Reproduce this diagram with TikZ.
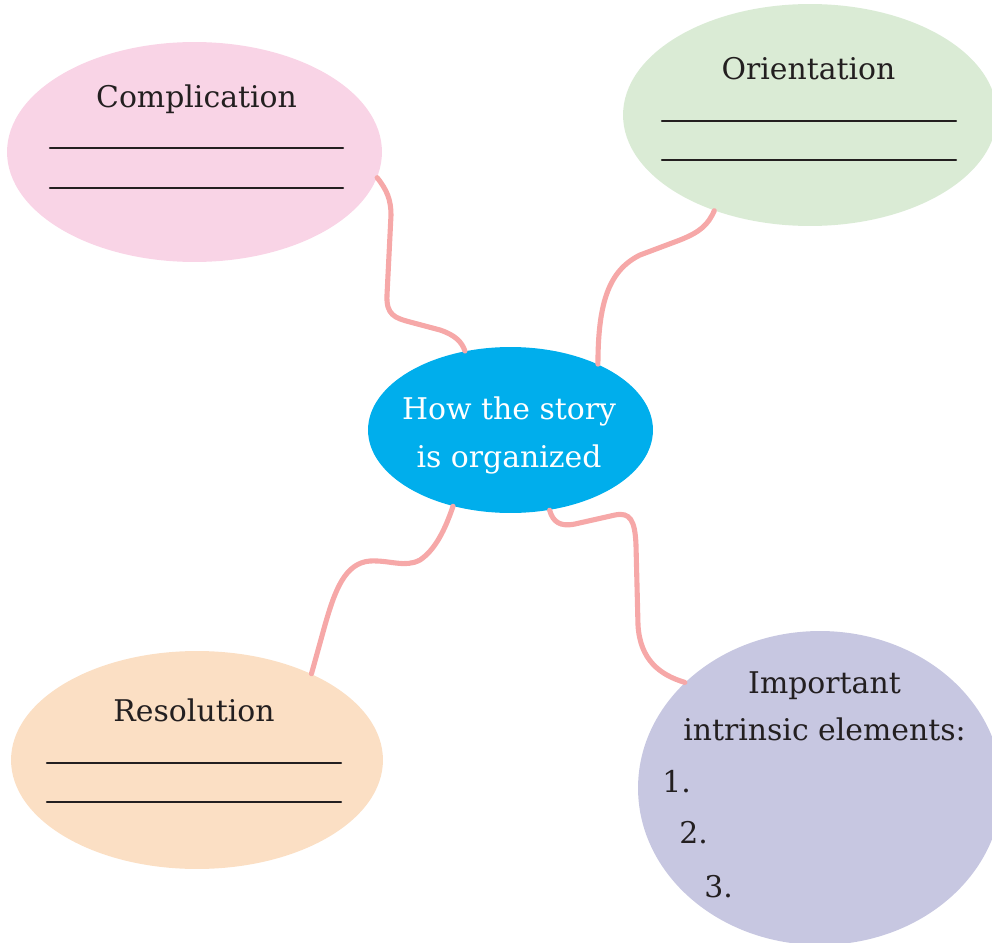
\documentclass[tikz,border=0pt]{standalone}
\usepackage{fontspec}
\setmainfont{DejaVu Serif}
\usetikzlibrary{shapes.geometric}
\definecolor{cmpPink}{HTML}{F9D4E6}
\definecolor{oriGreen}{HTML}{DAEBD5}
\definecolor{hubBlue}{HTML}{00AEEC}
\definecolor{resPeach}{HTML}{FBDFC4}
\definecolor{impLilac}{HTML}{C7C7E1}
\definecolor{linkRose}{HTML}{F6A8A8}
\definecolor{inkGray}{HTML}{231F20}
\begin{document}
\begin{tikzpicture}[x=0.02cm, y=-0.02cm, line cap=round,
	every node/.style={font=\fontsize{17}{27}\selectfont, text=inkGray},
	bubble/.style={ellipse, inner sep=0pt},
	link/.style={draw=linkRose, line width=2.9pt},
	blank/.style={draw=inkGray, line width=1.2pt}]
	\useasboundingbox (0,0) rectangle (992,943);
	% bubbles
	\node[bubble, fill=cmpPink, minimum width=7.5cm, minimum height=4.4cm] (cmp) at (194.5,152) {};
	\node[bubble, fill=oriGreen, minimum width=7.48cm, minimum height=4.44cm] (ori) at (810,115) {};
	\node[bubble, fill=hubBlue, minimum width=5.7cm, minimum height=3.32cm] (hub) at (510.5,430) {};
	\node[bubble, fill=resPeach, minimum width=7.44cm, minimum height=4.36cm] (res) at (197,760) {};
	\node[bubble, fill=impLilac, minimum width=7.28cm, minimum height=6.28cm] (imp) at (820,788) {};
	% links
	\draw[link] (cmp.-8) .. controls (387,190) and (391,200) .. (391,215) -- (387,295)
		.. controls (386,315) and (395,318) .. (410,322) -- (440,330)
		.. controls (455,335) and (462,342) .. (hub.120);
	\draw[link] (ori.-135) .. controls (708,225) and (700,232) .. (680,240) -- (640,255)
		.. controls (610,270) and (598,300) .. (hub.37);
	\draw[link] (hub.-127) .. controls (445,530) and (435,550) .. (420,560)
		.. controls (405,568) and (390,560) .. (370,561)
		.. controls (345,563) and (335,590) .. (325,625) -- (res.37);
	\draw[link] (hub.-64) .. controls (553,522) and (560,527) .. (575,524) -- (615,515)
		.. controls (630,512) and (635,520) .. (636,545) -- (638,625)
		.. controls (640,660) and (660,675) .. (imp.142);
	% titles
	\node[anchor=base] (cmpT) at (196.5,107) {Complication};
	\node[anchor=base] (oriT) at (808.5,79) {Orientation};
	\node[anchor=base] (resT) at (194,721) {Resolution};
	\node[anchor=base, text=white] (hubA) at (509,419) {How the story};
	\node[anchor=base, text=white] (hubB) at (509,467) {is organized};
	\node[anchor=base] (impA) at (824.5,693) {Important};
	\node[anchor=base] (impB) at (824.5,740) {intrinsic elements:};
	\node[anchor=base west, inner sep=0pt] (imp1) at (662,792) {1.};
	\node[anchor=base west, inner sep=0pt] (imp2) at (679,843) {2.};
	\node[anchor=base west, inner sep=0pt] (imp3) at (704,897) {3.};
	% blank lines
	\draw[blank] (50,148) -- (343,148);
	\draw[blank] (50,188) -- (343,188);
	\draw[blank] (662,121) -- (956,121);
	\draw[blank] (662,160) -- (956,160);
	\draw[blank] (47,763) -- (341,763);
	\draw[blank] (47,802) -- (341,802);
\end{tikzpicture}
\end{document}
